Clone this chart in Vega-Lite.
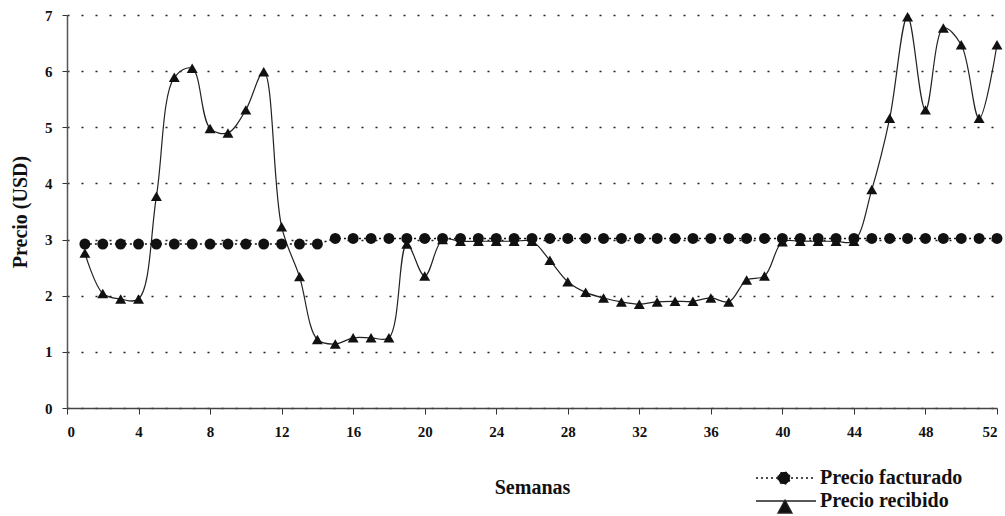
{
  "$schema": "https://vega.github.io/schema/vega-lite/v6.json",
  "width": 930,
  "height": 393,
  "autosize": {"type": "none"},
  "padding": {"left": 67, "top": 15, "right": 8, "bottom": 108},
  "background": "white",
  "config": {
    "view": {"stroke": null},
    "font": "Liberation Serif"
  },
  "data": {
    "values": [
      {"semana": 1, "serie": "Precio facturado", "precio": 2.92},
      {"semana": 2, "serie": "Precio facturado", "precio": 2.92},
      {"semana": 3, "serie": "Precio facturado", "precio": 2.92},
      {"semana": 4, "serie": "Precio facturado", "precio": 2.92},
      {"semana": 5, "serie": "Precio facturado", "precio": 2.92},
      {"semana": 6, "serie": "Precio facturado", "precio": 2.92},
      {"semana": 7, "serie": "Precio facturado", "precio": 2.92},
      {"semana": 8, "serie": "Precio facturado", "precio": 2.92},
      {"semana": 9, "serie": "Precio facturado", "precio": 2.92},
      {"semana": 10, "serie": "Precio facturado", "precio": 2.92},
      {"semana": 11, "serie": "Precio facturado", "precio": 2.92},
      {"semana": 12, "serie": "Precio facturado", "precio": 2.92},
      {"semana": 13, "serie": "Precio facturado", "precio": 2.92},
      {"semana": 14, "serie": "Precio facturado", "precio": 2.92},
      {"semana": 15, "serie": "Precio facturado", "precio": 3.02},
      {"semana": 16, "serie": "Precio facturado", "precio": 3.02},
      {"semana": 17, "serie": "Precio facturado", "precio": 3.02},
      {"semana": 18, "serie": "Precio facturado", "precio": 3.02},
      {"semana": 19, "serie": "Precio facturado", "precio": 3.02},
      {"semana": 20, "serie": "Precio facturado", "precio": 3.02},
      {"semana": 21, "serie": "Precio facturado", "precio": 3.02},
      {"semana": 22, "serie": "Precio facturado", "precio": 3.02},
      {"semana": 23, "serie": "Precio facturado", "precio": 3.02},
      {"semana": 24, "serie": "Precio facturado", "precio": 3.02},
      {"semana": 25, "serie": "Precio facturado", "precio": 3.02},
      {"semana": 26, "serie": "Precio facturado", "precio": 3.02},
      {"semana": 27, "serie": "Precio facturado", "precio": 3.02},
      {"semana": 28, "serie": "Precio facturado", "precio": 3.02},
      {"semana": 29, "serie": "Precio facturado", "precio": 3.02},
      {"semana": 30, "serie": "Precio facturado", "precio": 3.02},
      {"semana": 31, "serie": "Precio facturado", "precio": 3.02},
      {"semana": 32, "serie": "Precio facturado", "precio": 3.02},
      {"semana": 33, "serie": "Precio facturado", "precio": 3.02},
      {"semana": 34, "serie": "Precio facturado", "precio": 3.02},
      {"semana": 35, "serie": "Precio facturado", "precio": 3.02},
      {"semana": 36, "serie": "Precio facturado", "precio": 3.02},
      {"semana": 37, "serie": "Precio facturado", "precio": 3.02},
      {"semana": 38, "serie": "Precio facturado", "precio": 3.02},
      {"semana": 39, "serie": "Precio facturado", "precio": 3.02},
      {"semana": 40, "serie": "Precio facturado", "precio": 3.02},
      {"semana": 41, "serie": "Precio facturado", "precio": 3.02},
      {"semana": 42, "serie": "Precio facturado", "precio": 3.02},
      {"semana": 43, "serie": "Precio facturado", "precio": 3.02},
      {"semana": 44, "serie": "Precio facturado", "precio": 3.02},
      {"semana": 45, "serie": "Precio facturado", "precio": 3.02},
      {"semana": 46, "serie": "Precio facturado", "precio": 3.02},
      {"semana": 47, "serie": "Precio facturado", "precio": 3.02},
      {"semana": 48, "serie": "Precio facturado", "precio": 3.02},
      {"semana": 49, "serie": "Precio facturado", "precio": 3.02},
      {"semana": 50, "serie": "Precio facturado", "precio": 3.02},
      {"semana": 51, "serie": "Precio facturado", "precio": 3.02},
      {"semana": 52, "serie": "Precio facturado", "precio": 3.02},
      {"semana": 1, "serie": "Precio recibido", "precio": 2.76},
      {"semana": 2, "serie": "Precio recibido", "precio": 2.04},
      {"semana": 3, "serie": "Precio recibido", "precio": 1.94},
      {"semana": 4, "serie": "Precio recibido", "precio": 1.94},
      {"semana": 5, "serie": "Precio recibido", "precio": 3.77},
      {"semana": 6, "serie": "Precio recibido", "precio": 5.89},
      {"semana": 7, "serie": "Precio recibido", "precio": 6.05},
      {"semana": 8, "serie": "Precio recibido", "precio": 4.98},
      {"semana": 9, "serie": "Precio recibido", "precio": 4.9},
      {"semana": 10, "serie": "Precio recibido", "precio": 5.31},
      {"semana": 11, "serie": "Precio recibido", "precio": 5.99},
      {"semana": 12, "serie": "Precio recibido", "precio": 3.23},
      {"semana": 13, "serie": "Precio recibido", "precio": 2.34},
      {"semana": 14, "serie": "Precio recibido", "precio": 1.22},
      {"semana": 15, "serie": "Precio recibido", "precio": 1.14},
      {"semana": 16, "serie": "Precio recibido", "precio": 1.25},
      {"semana": 17, "serie": "Precio recibido", "precio": 1.25},
      {"semana": 18, "serie": "Precio recibido", "precio": 1.25},
      {"semana": 19, "serie": "Precio recibido", "precio": 2.92},
      {"semana": 20, "serie": "Precio recibido", "precio": 2.35},
      {"semana": 21, "serie": "Precio recibido", "precio": 3.0},
      {"semana": 22, "serie": "Precio recibido", "precio": 2.97},
      {"semana": 23, "serie": "Precio recibido", "precio": 2.97},
      {"semana": 24, "serie": "Precio recibido", "precio": 2.97},
      {"semana": 25, "serie": "Precio recibido", "precio": 2.97},
      {"semana": 26, "serie": "Precio recibido", "precio": 2.97},
      {"semana": 27, "serie": "Precio recibido", "precio": 2.63},
      {"semana": 28, "serie": "Precio recibido", "precio": 2.25},
      {"semana": 29, "serie": "Precio recibido", "precio": 2.06},
      {"semana": 30, "serie": "Precio recibido", "precio": 1.96},
      {"semana": 31, "serie": "Precio recibido", "precio": 1.89},
      {"semana": 32, "serie": "Precio recibido", "precio": 1.85},
      {"semana": 33, "serie": "Precio recibido", "precio": 1.89},
      {"semana": 34, "serie": "Precio recibido", "precio": 1.9},
      {"semana": 35, "serie": "Precio recibido", "precio": 1.9},
      {"semana": 36, "serie": "Precio recibido", "precio": 1.96},
      {"semana": 37, "serie": "Precio recibido", "precio": 1.89},
      {"semana": 38, "serie": "Precio recibido", "precio": 2.28},
      {"semana": 39, "serie": "Precio recibido", "precio": 2.35},
      {"semana": 40, "serie": "Precio recibido", "precio": 2.96},
      {"semana": 41, "serie": "Precio recibido", "precio": 2.97},
      {"semana": 42, "serie": "Precio recibido", "precio": 2.97},
      {"semana": 43, "serie": "Precio recibido", "precio": 2.97},
      {"semana": 44, "serie": "Precio recibido", "precio": 2.97},
      {"semana": 45, "serie": "Precio recibido", "precio": 3.89},
      {"semana": 46, "serie": "Precio recibido", "precio": 5.16},
      {"semana": 47, "serie": "Precio recibido", "precio": 6.97},
      {"semana": 48, "serie": "Precio recibido", "precio": 5.31},
      {"semana": 49, "serie": "Precio recibido", "precio": 6.77},
      {"semana": 50, "serie": "Precio recibido", "precio": 6.47},
      {"semana": 51, "serie": "Precio recibido", "precio": 5.16},
      {"semana": 52, "serie": "Precio recibido", "precio": 6.47}
    ]
  },
  "encoding": {
    "x": {
      "field": "semana",
      "type": "quantitative",
      "scale": {"domain": [0, 52], "nice": false, "zero": false},
      "axis": {
        "title": "Semanas",
        "values": [0, 4, 8, 12, 16, 20, 24, 28, 32, 36, 40, 44, 48, 52],
        "grid": false,
        "domainColor": "#444",
        "domainWidth": 1.5,
        "tickColor": "#333",
        "tickSize": 6,
        "labelPadding": 10,
        "labelFont": "Liberation Serif",
        "labelFontSize": 15,
        "labelFontWeight": "bold",
        "labelColor": "#111",
        "titleFont": "Liberation Serif",
        "titleFontSize": 20,
        "titleFontWeight": "bold",
        "titleColor": "#111",
        "titlePadding": 38
      }
    },
    "y": {
      "field": "precio",
      "type": "quantitative",
      "scale": {"domain": [0, 7], "nice": false},
      "axis": {
        "title": "Precio (USD)",
        "values": [0, 1, 2, 3, 4, 5, 6, 7],
        "grid": true,
        "gridDash": [2, 12],
        "gridColor": "#222",
        "gridWidth": 1.3,
        "domainColor": "#555",
        "domainWidth": 1.5,
        "tickColor": "#333",
        "tickSize": 5,
        "labelPadding": 10,
        "labelFont": "Liberation Serif",
        "labelFontSize": 15,
        "labelFontWeight": "bold",
        "labelColor": "#111",
        "titleFont": "Liberation Serif",
        "titleFontSize": 20,
        "titleFontWeight": "bold",
        "titleColor": "#111",
        "titlePadding": 14
      }
    }
  },
  "layer": [
    {
      "transform": [{"filter": "datum.serie == 'Precio facturado'"}],
      "mark": {"type": "line", "strokeWidth": 1.6, "strokeDash": [2, 3]},
      "encoding": {
        "color": {
          "field": "serie",
          "type": "nominal",
          "scale": {"domain": ["Precio facturado"], "range": ["#111"]},
          "legend": {
            "orient": "none",
            "legendX": 708,
            "legendY": 452,
            "title": null,
            "symbolSize": 400,
            "symbolType": "M-3,0L3,0M-0.8,0A0.6,0.6 0 1,0 0.4,0A0.6,0.6 0 1,0 -0.8,0Z",
            "symbolDash": [2, 3],
            "symbolStrokeWidth": 1.4,
            "symbolFillColor": "#111",
            "labelFont": "Liberation Serif",
            "labelFontSize": 20,
            "labelFontWeight": "bold",
            "labelColor": "#111",
            "labelOffset": 23
          }
        }
      }
    },
    {
      "transform": [{"filter": "datum.serie == 'Precio recibido'"}],
      "mark": {"type": "line", "color": "#222", "strokeWidth": 1.2, "interpolate": "catmull-rom"},
      "encoding": {
        "opacity": {
          "field": "serie",
          "type": "nominal",
          "scale": {"domain": ["Precio recibido"], "range": [1]},
          "legend": {
            "orient": "none",
            "legendX": 708,
            "legendY": 475,
            "title": null,
            "symbolSize": 400,
            "symbolType": "M-3,0L3,0M-0.1,-0.1L0.6,1.2L-0.8,1.2Z",
            "symbolStrokeWidth": 1.3,
            "symbolFillColor": "#111",
            "symbolStrokeColor": "#222",
            "labelFont": "Liberation Serif",
            "labelFontSize": 20,
            "labelFontWeight": "bold",
            "labelColor": "#111",
            "labelOffset": 23
          }
        }
      }
    },
    {
      "transform": [{"filter": "datum.serie == 'Precio recibido'"}],
      "mark": {"type": "point", "shape": "triangle-up", "filled": true, "opacity": 1, "size": 120, "color": "#111"}
    },
    {
      "transform": [{"filter": "datum.serie == 'Precio facturado'"}],
      "mark": {"type": "point", "shape": "circle", "filled": true, "opacity": 1, "size": 120, "color": "#111"}
    }
  ]
}
